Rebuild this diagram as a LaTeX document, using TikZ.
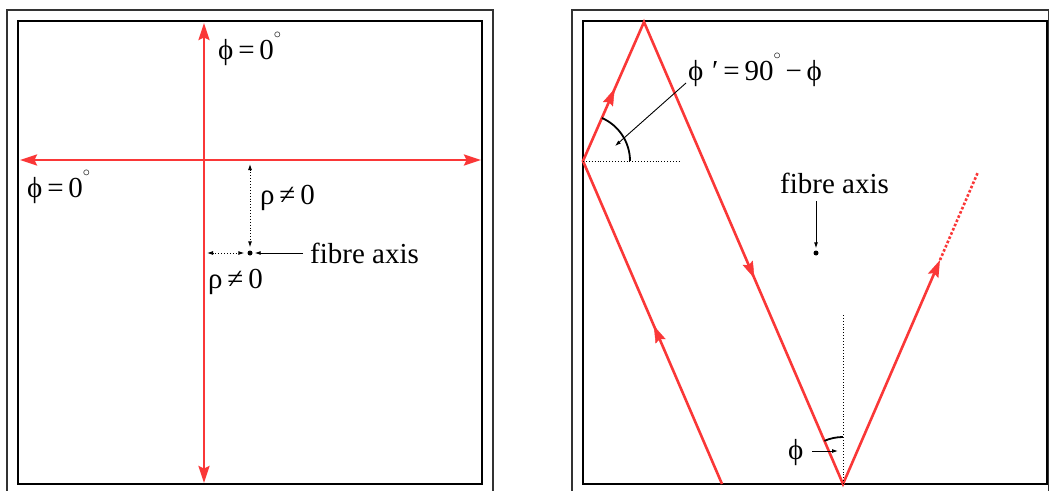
\documentclass[tikz,border=0pt]{standalone}
\usepackage{fontspec}
\setmainfont{Liberation Serif}
\usetikzlibrary{arrows.meta,decorations.markings}
\definecolor{ray}{RGB}{250,55,55}
\newcommand\dg{\raisebox{21pt}{\fontsize{14pt}{14pt}\selectfont$\circ$}}
\begin{document}
\begin{tikzpicture}[x=1pt,y=-1pt,
  lbl/.style={inner sep=0pt, anchor=base west, font=\fontsize{29pt}{32pt}\selectfont},
  frameout/.style={draw=black!80, line width=1.3pt},
  framein/.style={draw=black, line width=2pt},
  rayline/.style={draw=ray, line width=2.6pt, line join=miter},
  bigtip/.tip={Stealth[length=17pt,width=11pt,inset=2.5pt]},
  smalltip/.tip={Latex[length=6pt,width=4pt]},
  dotline/.style={black, line width=0.9pt, dotted},
  pointer/.style={black, line width=0.9pt},
  axdot/.style={circle, fill=black, inner sep=0pt, minimum size=5pt},
  midarrow/.style={decorate, decoration={markings, mark=at position #1 with {\arrow[color=ray, fill=ray]{Stealth[length=17pt,width=11pt,inset=2.5pt]}}}}
]
\useasboundingbox (0,0) rectangle (1049,490);
\clip (0,0) rectangle (1049,490);

% ---------- frames ----------
\draw[frameout] (7,10) rectangle (493,520);
\draw[framein] (18,21) rectangle (482,484);
\draw[frameout] (572,10) rectangle (1048.3,520);
\draw[framein] (583,21) rectangle (1047,484);

% ---------- left panel ----------
\coordinate (lt) at (204,23);
\coordinate (lb) at (204,483);
\coordinate (ll) at (20,160);
\coordinate (lr) at (481,160);
\draw[rayline, {bigtip}-{bigtip}] (lt) -- (lb);
\draw[rayline, {bigtip}-{bigtip}] (ll) -- (lr);

\node[lbl] (phiT) at (218,59) {ϕ\,=\,0\dg};
\node[lbl] (phiL) at (27,197) {ϕ\,=\,0\dg};

\node[axdot] (axL) at (250,253) {};
\coordinate (vtop) at (250,164);
\coordinate (hleft) at (207,253);
\coordinate (fibLs) at (303,253);
\draw[dotline, {smalltip}-{smalltip}, shorten >=3pt] (vtop) -- (axL);
\draw[dotline, {smalltip}-{smalltip}, shorten >=3pt] (hleft) -- (axL);
\draw[pointer, -{smalltip}, shorten >=2pt] (fibLs) -- (axL);
\node[lbl] (rhoV) at (260,204) {ρ\,≠\,0};
\node[lbl] (rhoH) at (208,288) {ρ\,≠\,0};
\node[lbl] (fibL) at (310,263) {fibre axis};

% ---------- right panel ----------
\coordinate (A) at (722,484);
\coordinate (B) at (583,161);
\coordinate (C) at (644,22);
\coordinate (D) at (843,484);
\coordinate (E) at (940,260);
\coordinate (F) at (978,172);
\draw[rayline, -{bigtip}] (A) -- (B) -- (C) -- (D) -- (E);
\draw[draw=ray, line width=2.6pt, dotted] (E) -- (F);
\path[midarrow=0.49] (A) -- (B);
\path[midarrow=0.52] (B) -- (C);
\path[midarrow=0.555] (C) -- (D);

% reference lines and angles
\coordinate (Bh) at (679,161);
\coordinate (Dv) at (843,315);
\draw[dotline] (B) -- (Bh);
\draw[dotline] (D) -- (Dv);
\draw[black, line width=1.8pt] (630,161) arc[start angle=0, end angle=66.3, radius=47pt];
\draw[black, line width=1.8pt] (843,437) arc[start angle=90, end angle=113.3, radius=47pt];

\node[lbl] (angl) at (688,80) {ϕ\hspace{0.3em}′\,=\,90\dg\,−\,ϕ};
\coordinate (angs) at (686,83);
\coordinate (ange) at (615,146);
\draw[pointer, -{smalltip}] (angs) -- (ange);

\node[axdot] (axR) at (816,253) {};
\node[lbl] (fibR) at (780,193) {fibre axis};
\coordinate (fibRs) at (816,201);
\draw[pointer, -{smalltip}, shorten >=2pt] (fibRs) -- (axR);

\node[lbl] (phB) at (788,459) {ϕ};
\coordinate (phs) at (812,451);
\coordinate (phe) at (838,451);
\draw[pointer, -{smalltip}] (phs) -- (phe);
\end{tikzpicture}
\end{document}
